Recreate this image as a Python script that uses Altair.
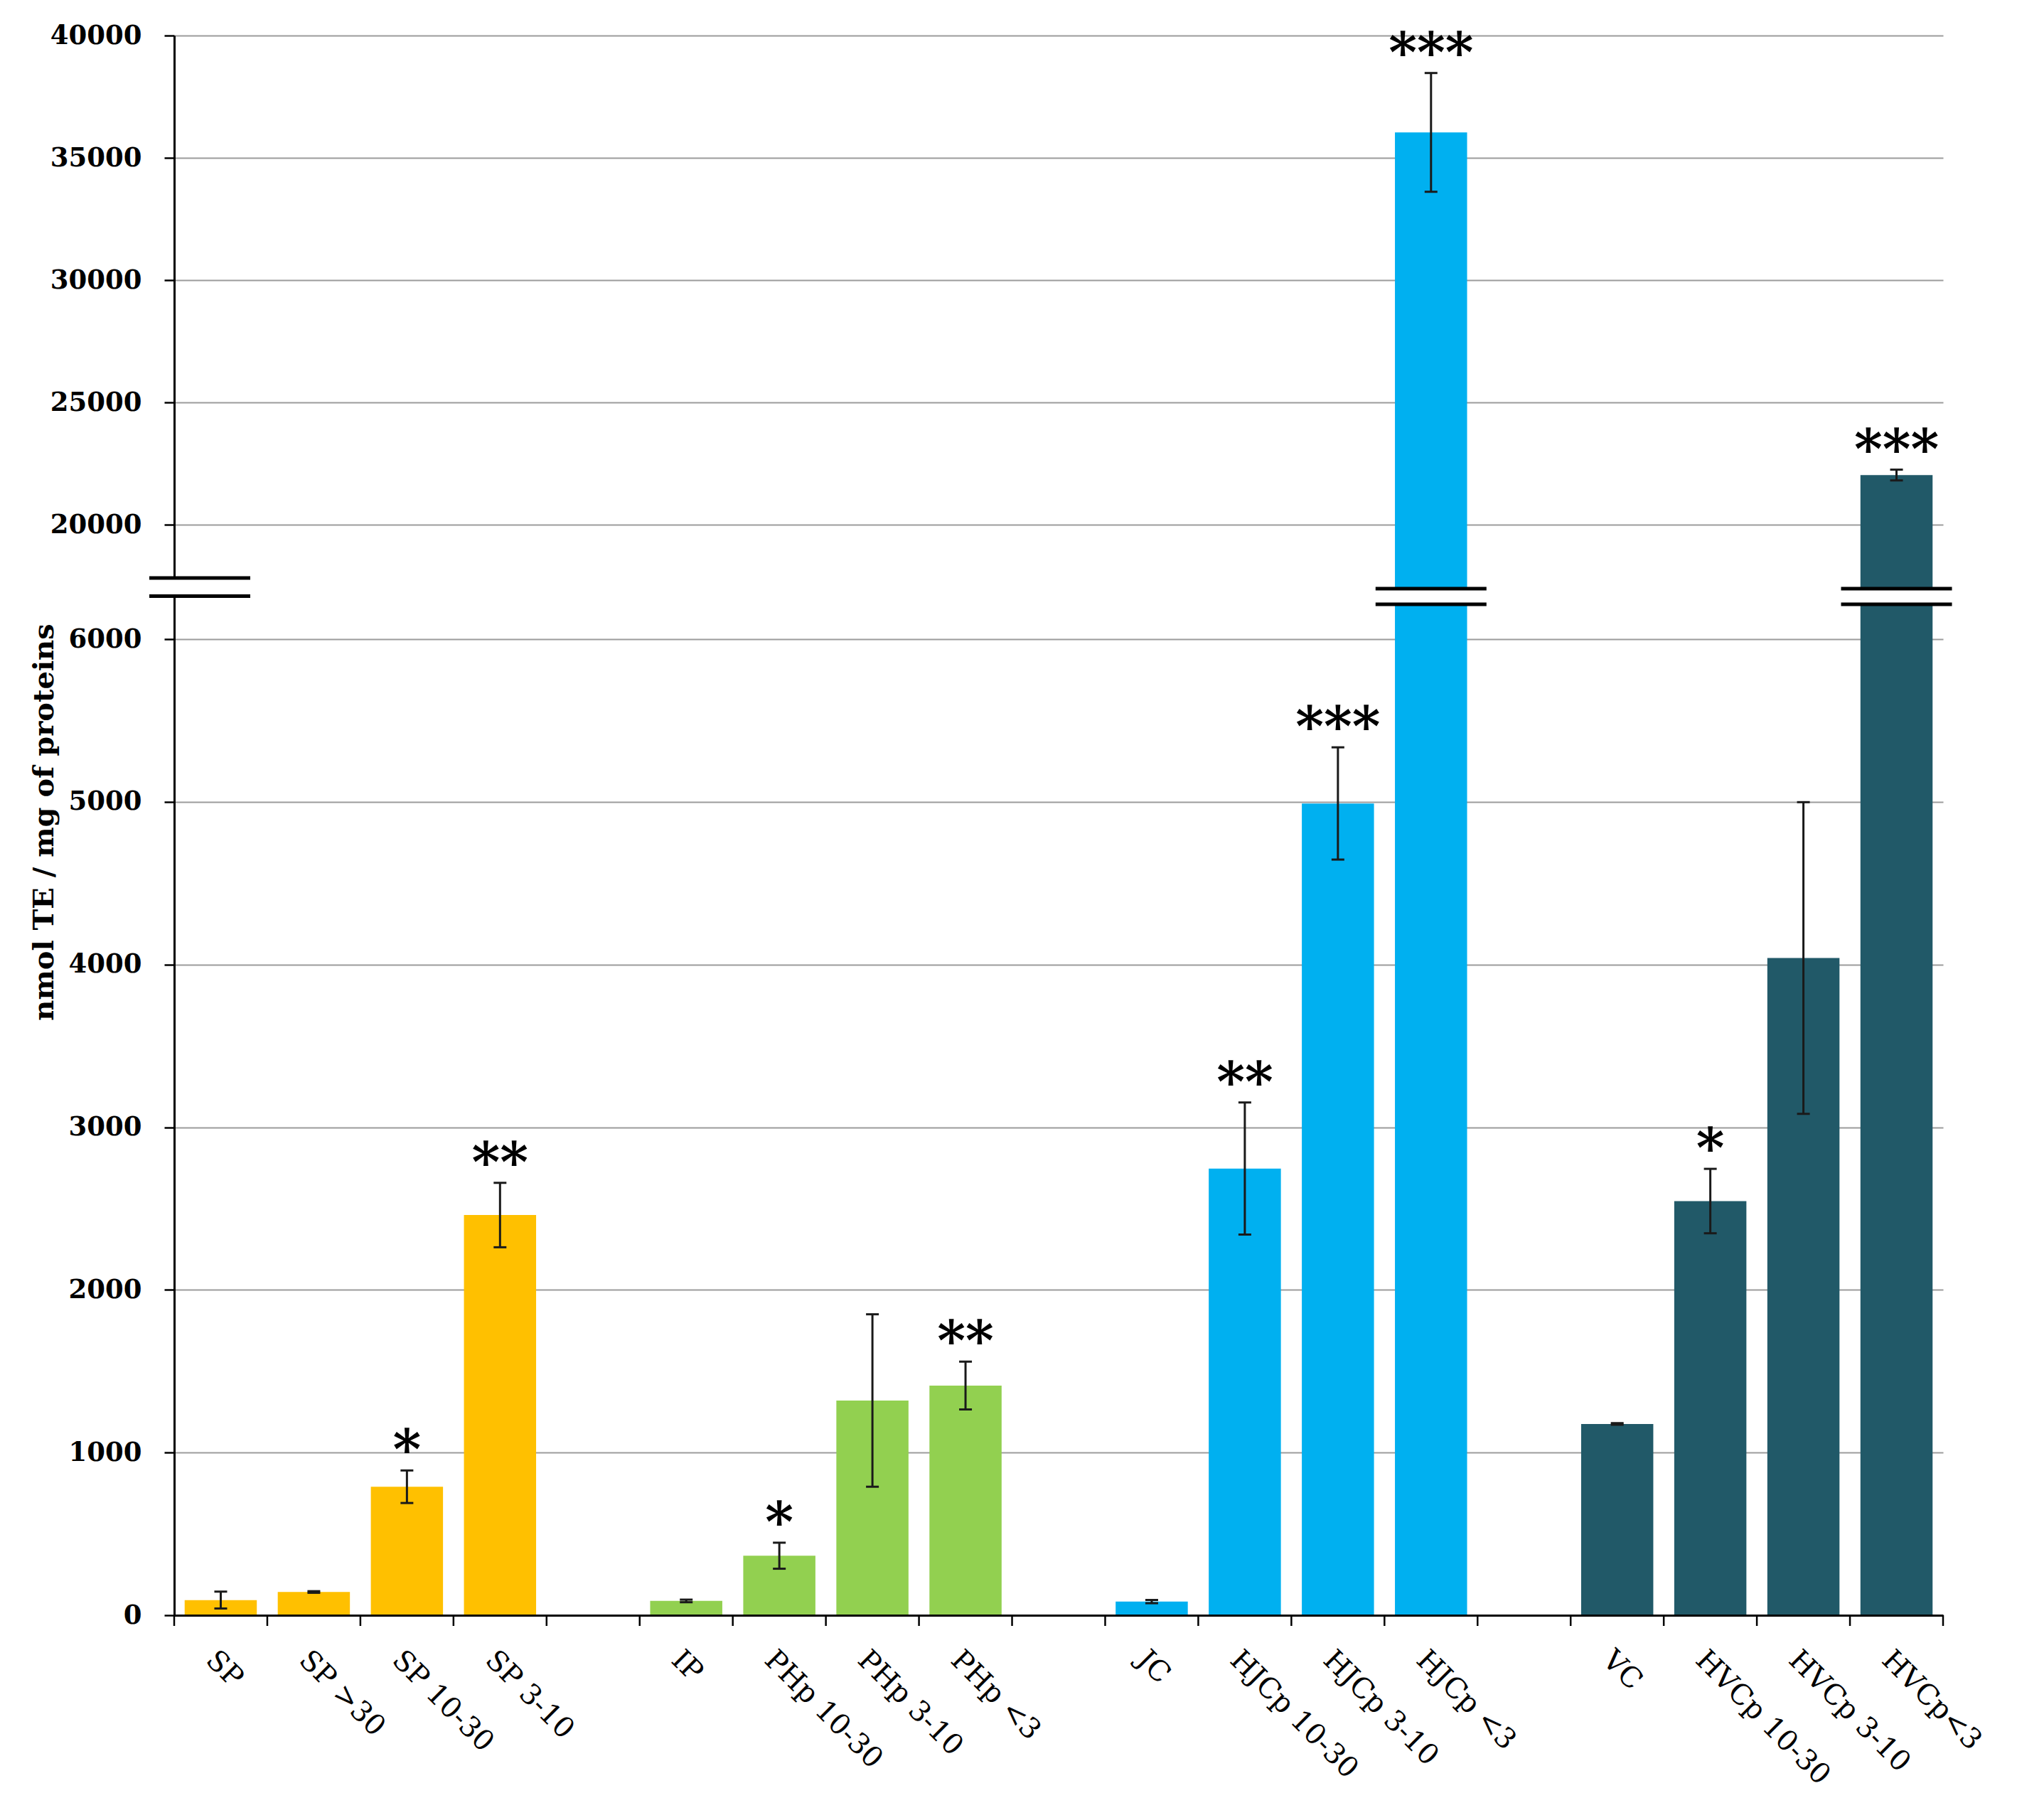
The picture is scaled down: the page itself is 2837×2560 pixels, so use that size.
import altair as alt
import pandas as pd

# ---- data ----
slots = ["SP", "SP >30", "SP 10-30", "SP 3-10", " ",
         "IP", "PHp 10-30", "PHp 3-10", "PHp <3", "  ",
         "JC", "HJCp 10-30", "HJCp 3-10", "HJCp <3", "   ",
         "VC", "HVCp 10-30", "HVCp 3-10", "HVCp<3"]
bar_labels = ["SP", "SP >30", "SP 10-30", "SP 3-10",
              "IP", "PHp 10-30", "PHp 3-10", "PHp <3",
              "JC", "HJCp 10-30", "HJCp 3-10", "HJCp <3",
              "VC", "HVCp 10-30", "HVCp 3-10", "HVCp<3"]
groups = ["SP"] * 4 + ["PHp"] * 4 + ["HJCp"] * 4 + ["HVCp"] * 4
values = [93, 143, 790, 2460,
          88, 366, 1320, 1412,
          84, 2746, 4990, 36040,
          1176, 2546, 4040, 22030]
errors = [52, 5, 100, 198,
          8, 80, 530, 147,
          10, 406, 345, 2428,
          5, 198, 958, 220]
stars = ["", "", "*", "**",
         "", "*", "", "**",
         "", "**", "***", "***",
         "", "*", "", "***"]
group_names = ["SP", "PHp", "HJCp", "HVCp"]
group_colors = ["#FFC000", "#92D050", "#00B0F0", "#215968"]
y_ticks = [0, 1000, 2000, 3000, 4000, 5000, 6000, 20000, 25000, 30000, 35000, 40000]
broken_bars = ["HJCp <3", "HVCp<3"]

# axis break (data space): lower segment ends, upper segment starts
LOW_END = 6264
UP_START = 17820
BAR_BRK = [6214, 11049]

W, H = 2488, 2222

df = pd.DataFrame({"cat": bar_labels, "grp": groups, "val": values,
                   "err": errors, "star": stars})
df["lo"] = df["val"] - df["err"]
df["hi"] = df["val"] + df["err"]
df["base"] = 0

brk = pd.DataFrame({"cat": broken_bars, "b0": [BAR_BRK[0]] * 2, "b1": [BAR_BRK[1]] * 2})
ticks_df = pd.DataFrame({"cat": slots})
last_df = pd.DataFrame({"cat": [slots[-1]]})

x_scale = alt.Scale(domain=slots, paddingInner=0, paddingOuter=0)
x_axis = alt.Axis(labelAngle=45, labelAlign="left", labelBaseline="top",
                  ticks=False, tickSize=0, labelPadding=42,
                  labelFont="DejaVu Serif", labelFontSize=40, labelColor="black",
                  labelLimit=600, labelOverlap=False, domainColor="black",
                  domainWidth=3, grid=False, title=None, zindex=1)

y_scale = alt.Scale(domain=[0, LOW_END, UP_START, 40000],
                    range=[H, 788.6, 763, 0], zero=False, nice=False)
y_axis = alt.Axis(values=y_ticks, format="d",
                  labelFont="DejaVu Serif", labelFontWeight="bold",
                  labelFontSize=37, labelColor="black", labelPadding=32,
                  labelOverlap=False, labelFlush=False,
                  tickSize=14, tickWidth=2.5, tickColor="black",
                  domainColor="black", domainWidth=3,
                  grid=True, gridColor="#9c9c9c", gridWidth=2,
                  title="nmol TE / mg of proteins",
                  titleFont="DejaVu Serif", titleFontWeight="bold",
                  titleFontSize=40, titleColor="black",
                  titleAngle=270, titleAlign="center", titleBaseline="middle",
                  titleX=-183, titleY=1106)


def X(**kw):
    return alt.X("cat:N", scale=x_scale, axis=x_axis, **kw)


def Y(field):
    return alt.Y(field, scale=y_scale, axis=y_axis)


bars = alt.Chart(df).mark_bar(width={"band": 0.775}).encode(
    x=X(),
    y=Y("val:Q"),
    y2="base:Q",
    color=alt.Color("grp:N", scale=alt.Scale(domain=group_names, range=group_colors),
                    legend=None),
)

brk_white = alt.Chart(brk).mark_bar(width={"band": 1.22}, color="white", opacity=1).encode(
    x=X(), y=Y("b0:Q"), y2="b1:Q")
brk_line0 = alt.Chart(brk).mark_tick(size=156, thickness=5, color="black", opacity=1).encode(
    x=X(), y=Y("b0:Q"))
brk_line1 = alt.Chart(brk).mark_tick(size=156, thickness=5, color="black", opacity=1).encode(
    x=X(), y=Y("b1:Q"))

err_rule = alt.Chart(df).mark_rule(color="#1a1a1a", strokeWidth=3).encode(
    x=X(), y=Y("lo:Q"), y2="hi:Q")
cap_lo = alt.Chart(df).mark_tick(size=18, thickness=3, color="#1a1a1a", opacity=1).encode(
    x=X(), y=Y("lo:Q"))
cap_hi = alt.Chart(df).mark_tick(size=18, thickness=3, color="#1a1a1a", opacity=1).encode(
    x=X(), y=Y("hi:Q"))

star_txt = alt.Chart(df).mark_text(font="DejaVu Serif", fontSize=76, fontWeight="bold",
                                   baseline="alphabetic", dy=-3,
                                   color="black").encode(
    x=X(), y=Y("hi:Q"), text="star:N")

axis_gap = alt.Chart(ticks_df.head(1)).mark_rect(color="white").encode(
    x=alt.value(-6), x2=alt.value(6),
    y=alt.datum(LOW_END, scale=y_scale, axis=y_axis), y2=alt.datum(UP_START))
axis_brk0 = alt.Chart(ticks_df.head(1)).mark_rule(color="black", strokeWidth=5).encode(
    x=alt.value(-35), x2=alt.value(107), y=alt.datum(LOW_END, scale=y_scale, axis=y_axis))
axis_brk1 = alt.Chart(ticks_df.head(1)).mark_rule(color="black", strokeWidth=5).encode(
    x=alt.value(-35), x2=alt.value(107), y=alt.datum(UP_START, scale=y_scale, axis=y_axis))

xticks = alt.Chart(ticks_df).mark_rule(color="black", strokeWidth=2.5).encode(
    x=X(bandPosition=0), y=alt.value(H), y2=alt.value(H + 15))
xtick_end = alt.Chart(last_df).mark_rule(color="black", strokeWidth=2.5).encode(
    x=X(bandPosition=1), y=alt.value(H), y2=alt.value(H + 15))

chart = alt.layer(
    bars, brk_white, brk_line0, brk_line1,
    err_rule, cap_lo, cap_hi, star_txt,
    axis_gap, axis_brk0, axis_brk1, xticks, xtick_end,
).properties(
    width=W, height=H,
    autosize=alt.AutoSizeParams(type="none"),
    padding={"left": 237, "top": 42, "right": 96, "bottom": 280},
    background="white",
).configure_view(stroke=None)

chart.save("out.html", embed_options={"renderer": "svg", "actions": False})
